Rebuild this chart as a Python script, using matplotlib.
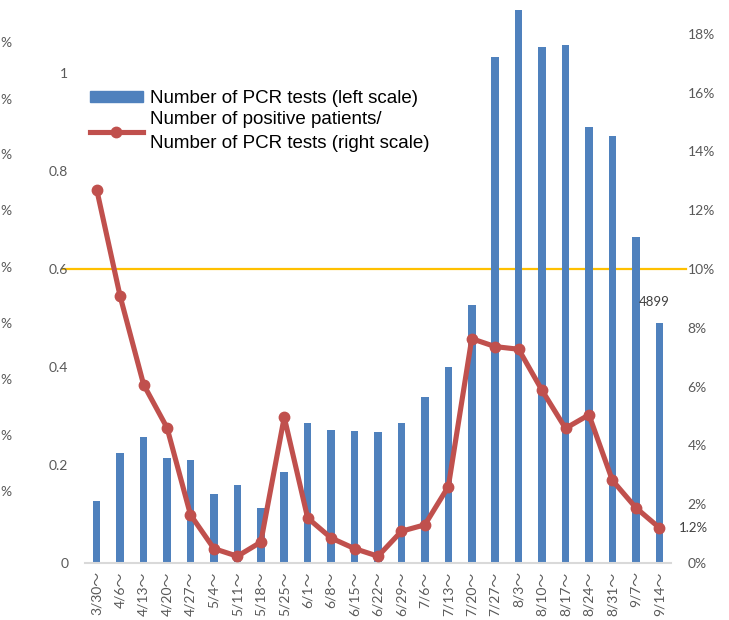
import matplotlib
matplotlib.use("Agg")
import matplotlib.pyplot as plt
from matplotlib.ticker import PercentFormatter, FixedLocator
from matplotlib.lines import Line2D
from matplotlib.patches import Patch

# weekly data
weeks = ["3/30", "4/6", "4/13", "4/20", "4/27", "5/4", "5/11", "5/18", "5/25",
         "6/1", "6/8", "6/15", "6/22", "6/29", "7/6", "7/13", "7/20", "7/27",
         "8/3", "8/10", "8/17", "8/24", "8/31", "9/7", "9/14"]
pcr_tests = [0.127, 0.225, 0.257, 0.215, 0.210, 0.141, 0.159, 0.112, 0.185,
             0.285, 0.272, 0.269, 0.267, 0.285, 0.339, 0.400, 0.527, 1.033,
             1.129, 1.053, 1.057, 0.889, 0.871, 0.665, 0.489]
positive_rate = [12.70, 9.07, 6.07, 4.60, 1.64, 0.49, 0.23, 0.71, 4.96,
                 1.53, 0.85, 0.49, 0.23, 1.08, 1.30, 2.60, 7.63, 7.36,
                 7.27, 5.87, 4.58, 5.04, 2.81, 1.88, 1.20]
left_ticks = [0, 0.2, 0.4, 0.6, 0.8, 1]
left_tick_labels = ["0", "0.2", "0.4", "0.6", "0.8", "1"]
right_ticks = [0, 2, 4, 6, 8, 10, 12, 14, 16, 18]
threshold = 0.6  # same level as 10% on the right scale
last_count_label = "4899"
last_rate_label = "1.2%"

BLUE = "#4F81BD"
RED = "#C0504D"
YELLOW = "#FFC000"
GRAY = "#595959"
TICK_FONT = ["Lato", "Noto Sans CJK JP", "DejaVu Sans"]

fig = plt.figure(figsize=(7.29, 6.2), dpi=100)
ax = fig.add_axes([85 / 729, 57 / 620, 586 / 729, 556 / 620])
ax2 = ax.twinx()

x = list(range(len(weeks)))
ax.bar(x, pcr_tests, width=0.32, color=BLUE, zorder=2)
ax2.plot(x, positive_rate, color=RED, lw=3.7, marker="o", ms=7.5, zorder=3,
         solid_capstyle="round", solid_joinstyle="round")

ax.set_xlim(-0.5, len(weeks) - 0.5)
ax.set_ylim(0, 556 / 490)
ax2.set_ylim(0, 556 / 490 / 0.06)

# threshold line, reaching a bit past the plot on both sides
ax.plot([-0.037, 1.026], [threshold, threshold], color=YELLOW, lw=1.6,
        transform=ax.get_yaxis_transform(), clip_on=False, zorder=1)

for a in (ax, ax2):
    for s in ("top", "left", "right"):
        a.spines[s].set_visible(False)
ax2.spines["bottom"].set_visible(False)
ax.spines["bottom"].set_color("#D9D9D9")
ax.spines["bottom"].set_linewidth(1.5)

ax.set_xticks(x)
ax.set_xticklabels([w + "～" for w in weeks], rotation=90, family=TICK_FONT,
                   fontsize=10, color=GRAY, va="top")
ax.yaxis.set_major_locator(FixedLocator(left_ticks))
ax.set_yticklabels(left_tick_labels, family=TICK_FONT, fontsize=10, color=GRAY)
ax2.yaxis.set_major_locator(FixedLocator(right_ticks))
ax2.yaxis.set_major_formatter(PercentFormatter(100, decimals=0))
for lab in ax2.get_yticklabels():
    lab.set_family(TICK_FONT)
    lab.set_fontsize(10)
    lab.set_color(GRAY)
ax.tick_params(axis="y", length=0, pad=12)
ax.tick_params(axis="x", length=0, pad=6)
ax2.tick_params(axis="y", length=0, pad=12)

# data labels
ax.text(x[-1] - 0.2, pcr_tests[-1] + 0.043, last_count_label, ha="center",
        va="center", fontsize=9.5, color="#404040", family=TICK_FONT)
ax2.annotate(last_rate_label, (x[-1], positive_rate[-1]), xytext=(14, 0),
             textcoords="offset points", ha="left", va="center",
             fontsize=9.5, color="#404040", family=TICK_FONT,
             annotation_clip=False)

# labels along the far left edge
for yy in [43, 100, 155, 211, 268, 324, 380, 436, 492]:
    fig.text(0.001, 1 - yy / 620, "%", ha="left", va="center",
             fontsize=10, color=GRAY, family=TICK_FONT)

handles = [Patch(color=BLUE),
           Line2D([], [], color=RED, lw=3.7, marker="o", ms=7.5)]
labels = ["Number of PCR tests (left scale)",
          "Number of positive patients/\nNumber of PCR tests (right scale)"]
leg = fig.legend(handles, labels, loc="upper left",
                 bbox_to_anchor=(90 / 729, 1 - 90 / 620), frameon=False,
                 prop={"family": "Liberation Sans", "size": 13.5},
                 handlelength=2.8, handleheight=0.5, handletextpad=0.4,
                 labelspacing=0.2, borderpad=0, borderaxespad=0)
leg.get_texts()[1].set_linespacing(1.55)

fig.savefig("out.png", dpi=100)
